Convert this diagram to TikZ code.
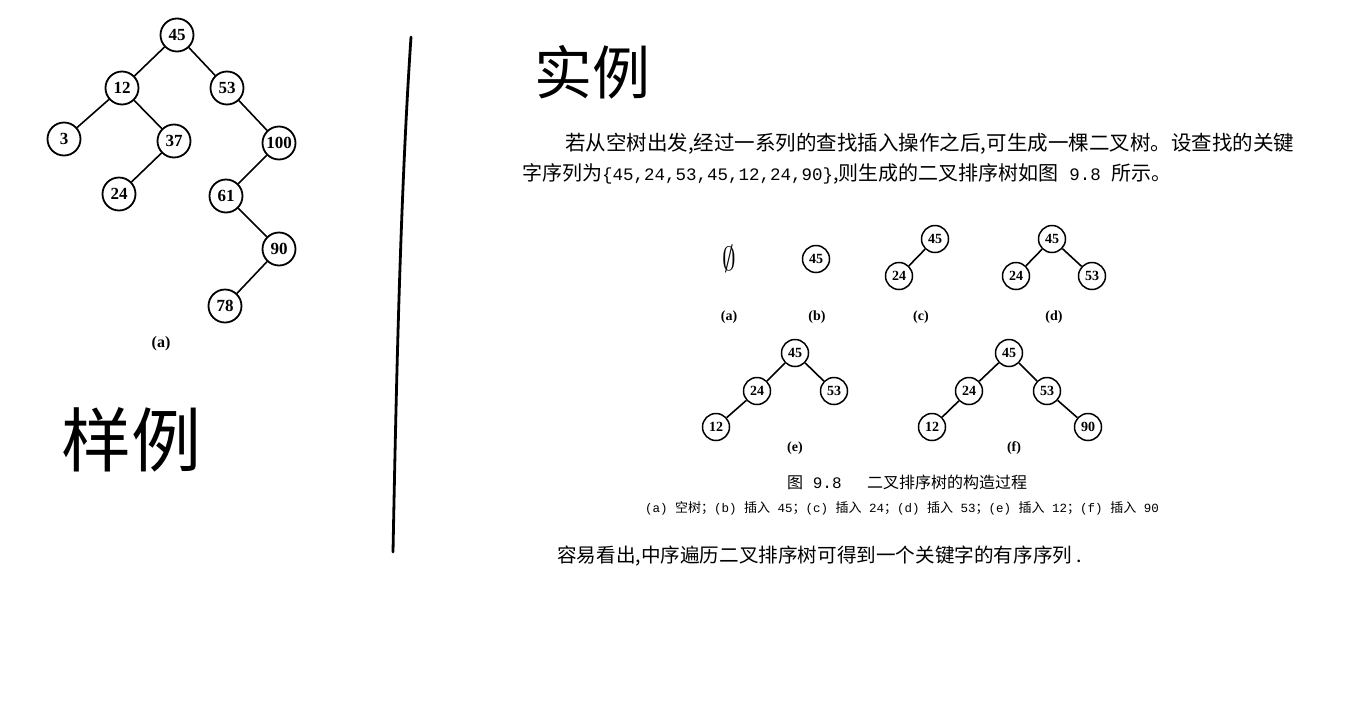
\documentclass[tikz,border=0pt]{standalone}
\usepackage{fontspec}
\setmainfont{Liberation Serif}
\newfontfamily\cjk{Noto Sans CJK SC}
\newfontfamily\mono{Liberation Mono}
\begin{document}
\begin{tikzpicture}[x=1pt,y=-1pt,
 big/.style={circle,draw,line width=1.8pt,minimum size=33pt,inner sep=0pt,font=\fontsize{17}{17}\selectfont\bfseries},
 small/.style={circle,draw,line width=1.5pt,minimum size=27pt,inner sep=0pt,font=\fontsize{14}{14}\selectfont\bfseries},
 edge/.style={line width=1.6pt},
 lab/.style={font=\fontsize{14}{14}\selectfont\bfseries},
 zh/.style={font=\cjk\fontsize{20}{20}\selectfont, anchor=west, inner sep=0pt},
 captext/.style={font=\cjk\fontsize{16}{16}\selectfont, inner sep=0pt},
 hand/.style={font=\cjk\fontsize{70}{70}\selectfont, inner sep=0pt}
]
\fill[white] (0,0) rectangle (1360,718);
\useasboundingbox (0,0) rectangle (1360,718);

% left tree
\node[big] (L45) at (177,35) {45};
\node[big] (L12) at (122,88) {12};
\node[big] (L53) at (227,88) {53};
\node[big] (L3) at (64,139) {3};
\node[big] (L37) at (174,141) {37};
\node[big] (L100) at (279,143) {100};
\node[big] (L24) at (119,194) {24};
\node[big] (L61) at (226,196) {61};
\node[big] (L90) at (279,249) {90};
\node[big] (L78) at (225,306) {78};
\draw[edge] (L45)--(L12) (L45)--(L53) (L12)--(L3) (L12)--(L37) (L37)--(L24)
  (L53)--(L100) (L100)--(L61) (L61)--(L90) (L90)--(L78);
\node[font=\fontsize{16}{16}\selectfont\bfseries] (La) at (161,344) {(a)};

% handwriting
\node[hand] (h1) at (131,440) {样例};
\node[hand, font=\cjk\fontsize{58}{58}\selectfont] (h2) at (592,72) {实例};

% divider
\coordinate (d1) at (411,37);
\coordinate (d2) at (393,552);
\draw[line width=2.8pt, line cap=round] (d1) .. controls (400,200) and (396,400) .. (d2);

% paragraph
\node[zh, font=\cjk\fontsize{20.5}{20.5}\selectfont] (p1) at (565,144) {若从空树出发,经过一系列的查找插入操作之后,可生成一棵二叉树。设查找的关键};
\node[zh] (p2) at (522,174) {字序列为{\mono\fontsize{17.5}{17.5}\selectfont\{45,24,53,45,12,24,90\}},则生成的二叉排序树如图{\mono\fontsize{17.5}{17.5}\selectfont\ 9.8\ }所示。};

% small trees
\node[font=\fontsize{24}{24}\selectfont, xscale=1.1, yscale=1.35, transform shape] (ea) at (729,259) {$\emptyset$};
\node[lab] (la) at (729,317) {(a)};

\node[small] (b45) at (816,259) {45};
\node[lab] (lb) at (817,317) {(b)};

\node[small] (c45) at (935,239) {45};
\node[small] (c24) at (899,276) {24};
\draw[edge] (c45)--(c24);
\node[lab] (lc) at (921,317) {(c)};

\node[small] (d45) at (1052,239) {45};
\node[small] (d24) at (1016,276) {24};
\node[small] (d53) at (1092,276) {53};
\draw[edge] (d45)--(d24) (d45)--(d53);
\node[lab] (ld) at (1054,317) {(d)};

\node[small] (e45) at (795,353) {45};
\node[small] (e24) at (757,391) {24};
\node[small] (e53) at (834,391) {53};
\node[small] (e12) at (716,427) {12};
\draw[edge] (e45)--(e24) (e45)--(e53) (e24)--(e12);
\node[lab] (le) at (795,448) {(e)};

\node[small] (f45) at (1009,353) {45};
\node[small] (f24) at (969,391) {24};
\node[small] (f53) at (1047,391) {53};
\node[small] (f12) at (932,427) {12};
\node[small] (f90) at (1088,427) {90};
\draw[edge] (f45)--(f24) (f45)--(f53) (f24)--(f12) (f53)--(f90);
\node[lab] (lf) at (1014,448) {(f)};

% captions
\node[captext, anchor=west] (c1) at (787,482) {图{\mono\ 9.8}\hspace{1.6em}二叉排序树的构造过程};
\node[captext, anchor=west, font=\cjk\fontsize{13}{13}\selectfont] (c2) at (645,508) {{\mono\fontsize{12.5}{12.5}\selectfont(a) }空树；{\mono\fontsize{12.5}{12.5}\selectfont(b) }插入{\mono\fontsize{12.5}{12.5}\selectfont\ 45}；{\mono\fontsize{12.5}{12.5}\selectfont(c) }插入{\mono\fontsize{12.5}{12.5}\selectfont\ 24}；{\mono\fontsize{12.5}{12.5}\selectfont(d) }插入{\mono\fontsize{12.5}{12.5}\selectfont\ 53}；{\mono\fontsize{12.5}{12.5}\selectfont(e) }插入{\mono\fontsize{12.5}{12.5}\selectfont\ 12}；{\mono\fontsize{12.5}{12.5}\selectfont(f) }插入{\mono\fontsize{12.5}{12.5}\selectfont\ 90}};

\node[zh, font=\cjk\fontsize{19.6}{19.6}\selectfont] (p3) at (557,556) {容易看出,中序遍历二叉排序树可得到一个关键字的有序序列 .};
\end{tikzpicture}
\end{document}
